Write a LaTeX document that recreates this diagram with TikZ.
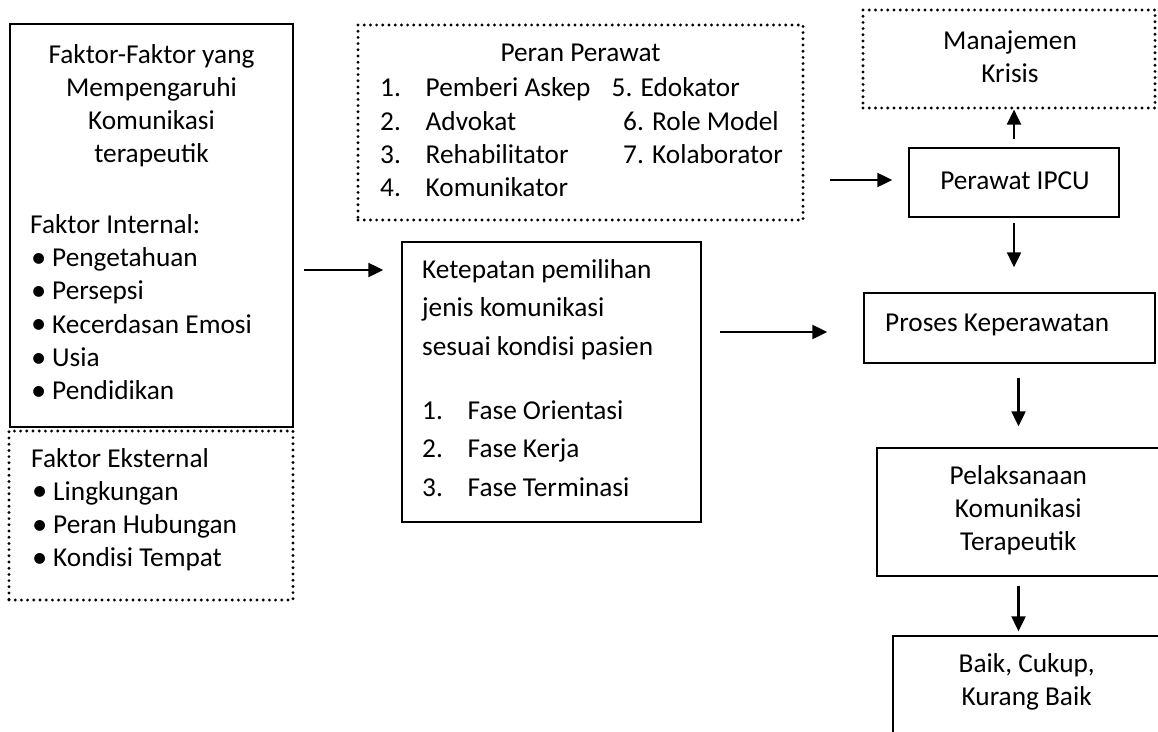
\documentclass[tikz,border=0pt]{standalone}
\usepackage{fontspec}
\usepackage{graphicx}
\setmainfont{Carlito}
\usetikzlibrary{arrows.meta,fit}
\newcommand{\bodysize}{\fontsize{27.3}{33.3}\selectfont}
\newcommand{\widesize}{\fontsize{27.3}{38.5}\selectfont}
\newcommand{\bul}{\makebox[22pt][l]{\hspace*{1pt}\raisebox{-0.5pt}{\scalebox{1.12}{\textbullet}}}}
\newcommand{\num}[1]{\makebox[45.5pt][l]{#1}}

\begin{document}
\begin{tikzpicture}[x=1pt,y=-1pt,
	solidbox/.style={draw,line width=1.4pt,inner sep=0pt},
	dotbox/.style={draw,line width=3.2pt,line cap=round,dash pattern=on 0pt off 6.2pt,inner sep=0pt},
	flow/.style={-{Triangle[length=15pt,width=14pt]},line width=2.2pt},
	txt/.style={inner sep=0pt,font=\bodysize}]
	\useasboundingbox (0,0) rectangle (1158,731);
	\clip (0,0) rectangle (1158,731);

	% boxes
	\node[solidbox,fit={(10,24) (293,427)}] (fk) {};
	\node[dotbox,fit={(9,431) (293,600)}] (fe) {};
	\node[dotbox,fit={(358,25) (803,220)}] (pp) {};
	\node[solidbox,fit={(402,242) (701,522)}] (kt) {};
	\node[dotbox,fit={(863,10) (1155,108)}] (mk) {};
	\node[solidbox,fit={(909,148) (1119,217)}] (ip) {};
	\node[solidbox,fit={(864,293) (1155,363)}] (pk) {};
	\node[solidbox,fit={(877,448) (1160,576)}] (pl) {};
	\node[solidbox,fit={(893,636) (1170,760)}] (bk) {};

	% texts
	\node[txt,anchor=base] (fkhead) at (151.5,63) {\begin{tabular}[t]{@{}c@{}}Faktor-Faktor yang\\Mempengaruhi\\Komunikasi\\terapeutik\end{tabular}};
	\node[txt,anchor=base west] (fkin) at (30,233.3) {\begin{tabular}[t]{@{}l@{}}Faktor Internal:\\\bul Pengetahuan\\\bul Persepsi\\\bul Kecerdasan Emosi\\\bul Usia\\\bul Pendidikan\end{tabular}};
	\node[txt,anchor=base west] (fetxt) at (31,467) {\begin{tabular}[t]{@{}l@{}}Faktor Eksternal\\\bul Lingkungan\\\bul Peran Hubungan\\\bul Kondisi Tempat\end{tabular}};

	\node[txt,anchor=base] (pphead) at (580.5,61.7) {Peran Perawat};
	\node[txt,anchor=base west] (ppleft) at (380,96.7) {\begin{tabular}[t]{@{}l@{}}\num{1.}Pemberi Askep\\\num{2.}Advokat\\\num{3.}Rehabilitator\\\num{4.}Komunikator\end{tabular}};
	\node[txt,anchor=base west] (ppright) at (623,96.7) {\begin{tabular}[t]{@{}l@{}}\hspace*{-11.5pt}5. Edokator\\6. Role Model\\7. Kolaborator\end{tabular}};

	\node[txt,font=\widesize,anchor=base west] (kthead) at (422,278) {\begin{tabular}[t]{@{}l@{}}Ketepatan pemilihan\\jenis komunikasi\\sesuai kondisi pasien\end{tabular}};
	\node[txt,font=\widesize,anchor=base west] (ktlist) at (422,419) {\begin{tabular}[t]{@{}l@{}}\num{1.}Fase Orientasi\\\num{2.}Fase Kerja\\\num{3.}Fase Terminasi\end{tabular}};

	\node[txt,anchor=base] (mktxt) at (1010,49.3) {\begin{tabular}[t]{@{}c@{}}Manajemen\\Krisis\end{tabular}};
	\node[txt,anchor=base] (iptxt) at (1015,189.3) {Perawat IPCU};
	\node[txt,anchor=base west] (pktxt) at (885,331.7) {Proses Keperawatan};
	\node[txt,anchor=base] (pltxt) at (1018.3,484) {\begin{tabular}[t]{@{}c@{}}Pelaksanaan\\Komunikasi\\Terapeutik\end{tabular}};
	\node[txt,anchor=base] (bktxt) at (1026.7,672.5) {\begin{tabular}[t]{@{}c@{}}Baik, Cukup,\\Kurang Baik\end{tabular}};

	% arrows
	\draw[flow,shorten <=10pt,shorten >=18pt] (fk.east |- 0,270) -- (kt.west |- 0,270);
	\draw[flow,shorten <=18pt,shorten >=36pt] (kt.east |- 0,332) -- (pk.west |- 0,332);
	\draw[flow,shorten <=25pt,shorten >=16pt] (pp.east |- 0,180) -- (ip.west |- 0,180);
	\draw[flow,shorten <=8pt] (ip.north) -- (ip.north |- mk.south);
	\draw[flow,shorten <=5pt,shorten >=25pt] (ip.south) -- (ip.south |- pk.north);
	\draw[flow,shorten <=14pt,shorten >=21pt] (pk.south -| pl.north) -- (pl.north);
	\draw[flow,shorten <=9pt,shorten >=4pt] (pl.south) -- (pl.south |- bk.north);
\end{tikzpicture}
\end{document}
